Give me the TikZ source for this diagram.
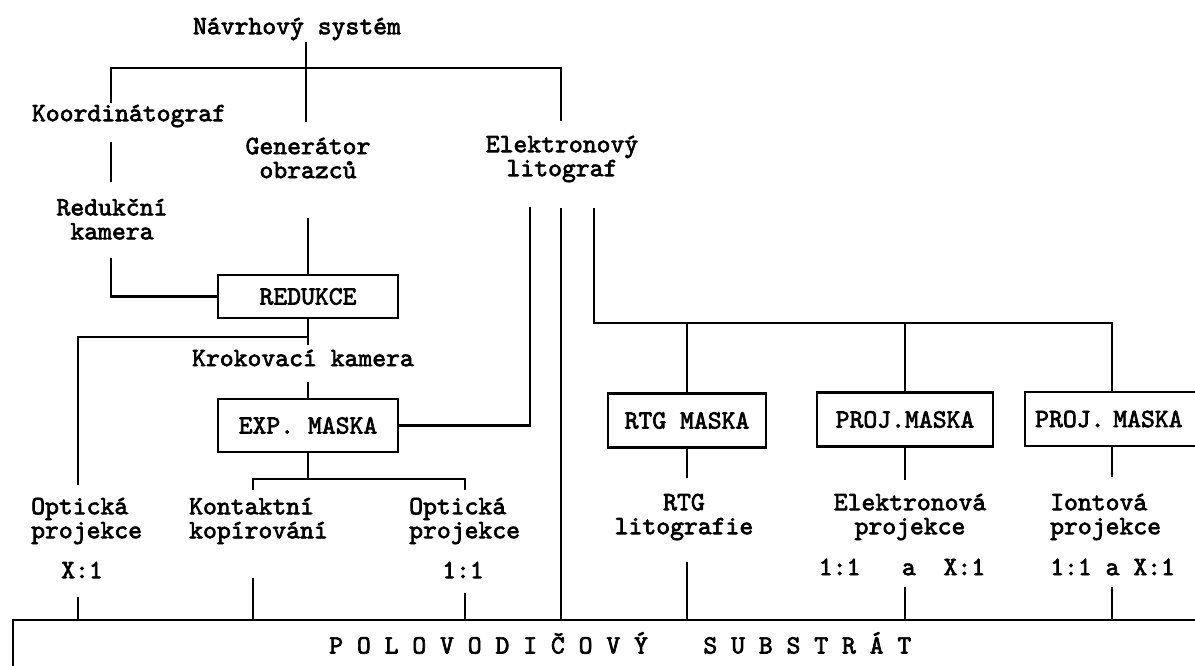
\documentclass[tikz,border=0pt]{standalone}
\usepackage{fontspec}
\newfontfamily\tw{lmmono10-regular.otf}[FakeBold=2.5]
\begin{document}
\begin{tikzpicture}[x=1pt,y=-1pt,
  every node/.style={font=\tw\fontsize{26.4}{24}\selectfont,inner sep=0pt},
  ln/.style={line width=2.4pt},
  box/.style={draw,line width=2.4pt,minimum height=54pt},
  lbl/.style={align=left,anchor=west},
  clbl/.style={align=center}]
\useasboundingbox (0,0) rectangle (1195,666);
% y positions: top branch, right bus, substrate top
\def\ybr{68}\def\ybus{323}\def\ysub{620}
%------------- top: design system
\node (sys) at (297,29) {Návrhový systém};
\node (koord) at (129,116) {Koordinátograf};
\node[clbl] (gen) at (308,158) {Generátor\\obrazců};
\node[clbl] (elit) at (562,159) {Elektronový\\litograf};
\node[clbl] (rkam) at (112,219) {Redukční\\kamera};
\coordinate (s0) at (306,42); \coordinate (s1) at (306,122);
\coordinate (j0) at (306,\ybr);
\coordinate (bl) at (111,103); \coordinate (br) at (561,121);
\draw[ln] (s0) -- (s1);
\draw[ln] (bl) |- (j0) -| (br);
%------------- optical branch
\node[box,minimum width=180pt,minimum height=43pt] (red) at (308,296.5) {REDUKCE};
\node (krok) at (303,358) {Krokovací kamera};
\node[box,minimum width=180pt,minimum height=53pt] (exp) at (308,425.5) {EXP.~MASKA};
\coordinate (k0) at (111,142); \coordinate (k1) at (111,182);
\coordinate (r0) at (111,258);
\coordinate (g0) at (308,218);
\coordinate (c0) at (308,345); \coordinate (c1) at (308,337);
\coordinate (c2) at (308,382);
\coordinate (o0) at (78,485);
\coordinate (e0) at (530,207);
\coordinate (x0) at (308,479); \coordinate (x1) at (253,490); \coordinate (x2) at (465,490);
\draw[ln] (k0) -- (k1);
\draw[ln] (r0) |- (red.west);
\draw[ln] (g0) -- (red.north);
\draw[ln] (red.south) -- (c0);
\draw[ln] (c1) -| (o0);
\draw[ln] (c2) -- (exp.north);
\draw[ln] (exp.east) -| (e0);
\draw[ln] (exp.south) -- (x0);
\draw[ln] (x1) |- (x0) -| (x2);
%------------- electron beam branch
\node[box,minimum width=158pt] (rtg) at (687,420.5) {RTG~MASKA};
\node[box,minimum width=176pt] (pj1) at (905,419.5) {PROJ.MASKA};
\node[box,anchor=west,text width=180pt,align=left,inner xsep=10pt] (pj2) at (1024,419) {PROJ.~MASKA};
\coordinate (e1) at (561,208); \coordinate (e2) at (594,208);
\coordinate (bus) at (1112,\ybus);
\coordinate (rb) at (687,478); \coordinate (pb1) at (905,480); \coordinate (pb2) at (1112,477);
\draw[ln] (e2) |- (bus) -- (bus |- pj2.north);
\draw[ln] (rtg.north) -- (rtg.north |- bus);
\draw[ln] (pj1.north) -- (pj1.north |- bus);
\draw[ln] (rtg.south) -- (rb);
\draw[ln] (pj1.south) -- (pb1);
\draw[ln] (pb2 |- pj2.south) -- (pb2);
%------------- exposure methods
\node[lbl] (opt1) at (31,521) {Optická\\projekce};
\node (opt1r) at (82,570) {X:1};
\node[lbl] (kont) at (189,521) {Kontaktní\\kopírování};
\node[lbl] (opt2) at (409,521) {Optická\\projekce};
\node (opt2r) at (463,570) {1:1};
\node[clbl] (rtgl) at (684,517) {RTG\\litografie};
\node[clbl] (elp) at (910,517) {Elektronová\\projekce};
\node (elpr) at (902,567) {1:1~~~a~~X:1};
\node[lbl] (ion) at (1050,517) {Iontová\\projekce};
\node[anchor=west] (ionr) at (1050,567) {1:1 a X:1};
%------------- substrate
\coordinate (sub0) at (13,666); \coordinate (sub1) at (1230,\ysub);
\draw[ln] (sub0) |- (sub1);
\node[anchor=west] (subs) at (329,643) {P O L O V O D I Č O V Ý~~~~S U B S T R Á T};
\coordinate (d1) at (78,597); \coordinate (d2) at (253,578); \coordinate (d3) at (465,593);
\coordinate (d4) at (687,562); \coordinate (d5) at (905,587); \coordinate (d6) at (1112,587);
\foreach \d in {d1,d2,d3,d4,d5,d6}
  \draw[ln] (\d) -- (\d |- sub1);
\draw[ln] (e1) -- (e1 |- sub1);
\end{tikzpicture}
\end{document}
